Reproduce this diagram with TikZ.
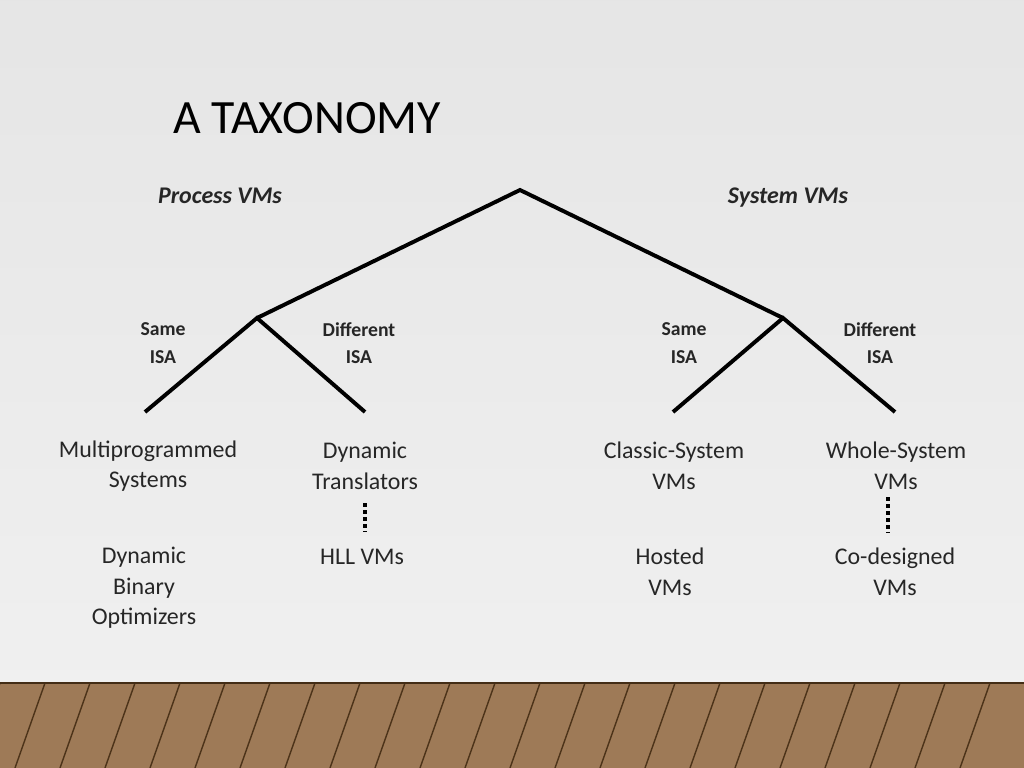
\documentclass[tikz,border=0pt]{standalone}
\usepackage{fontspec}
\setmainfont{Carlito}
\usetikzlibrary{positioning}
\begin{document}
\begin{tikzpicture}[x=0.025cm,y=-0.025cm,thick,
  branch/.style={line width=2.8pt},
  dots/.style={line width=3pt,dash pattern=on 2.5pt off 2.5pt},
  leaf node/.style={font=\fontsize{17}{21.8}\selectfont,align=center,text=black!85},
  isa node/.style={font=\fontsize{14}{19.5}\selectfont\bfseries,align=center,text=black!85,text depth=0pt},
  kind node/.style={font=\fontsize{17}{20}\selectfont\bfseries\itshape,text=black!85,text depth=2pt}]
  \useasboundingbox (0,0) rectangle (1024,768);
  \shade[top color=black!10,bottom color=black!6] (0,0) rectangle (1024,683);
  % floor
  \fill[brown!70!black!80] (0,683) rectangle (1024,768);
  \foreach \x in {0,45,...,1024}
    \draw[brown!40!black,line width=1pt] (\x,683) -- (\x-30,768);
  \draw[brown!35!black,line width=1.5pt] (0,683) -- (1024,683);

  \node[font=\fontsize{34}{38}\selectfont,anchor=west] (title) at (168,118) {A TAXONOMY};

  \coordinate (root) at (520,190);
  \coordinate (proc) at (257,318);
  \coordinate (sys) at (783,318);
  \coordinate (pl) at (145,412);
  \coordinate (pr) at (365,412);
  \coordinate (sl) at (673,412);
  \coordinate (sr) at (895,412);
  \coordinate (d1a) at (365,503);
  \coordinate (d1b) at (365,532);
  \coordinate (d2a) at (888,497);
  \coordinate (d2b) at (888,533);

  \node[kind node] (procvm) at (220,197) {Process VMs};
  \node[kind node] (sysvm) at (788,197) {System VMs};
  \node[isa node] (psame) at (163,343) {Same\\ISA};
  \node[isa node] (pdiff) at (359,343) {Different\\ISA};
  \node[isa node] (ssame) at (684,343) {Same\\ISA};
  \node[isa node] (sdiff) at (880,343) {Different\\ISA};

  \node[leaf node] (multi) at (148,466) {Multiprogrammed\\Systems};
  \node[leaf node] (dyntr) at (365,466) {Dynamic\\Translators};
  \node[leaf node] (classic) at (674,466) {Classic-System\\VMs};
  \node[leaf node] (whole) at (896,466) {Whole-System\\VMs};
  \node[leaf node] (dynbin) at (144,588) {Dynamic\\Binary\\Optimizers};
  \node[leaf node] (hll) at (362,557) {HLL VMs};
  \node[leaf node] (hosted) at (670,572) {Hosted\\VMs};
  \node[leaf node] (codes) at (895,572) {Co-designed\\VMs};

  \draw[branch] (proc) -- (root) -- (sys);
  \draw[branch] (pl) -- (proc) -- (pr);
  \draw[branch] (sl) -- (sys) -- (sr);
  \draw[dots] (d1a) -- (d1b);
  \draw[dots] (d2a) -- (d2b);
\end{tikzpicture}
\end{document}
